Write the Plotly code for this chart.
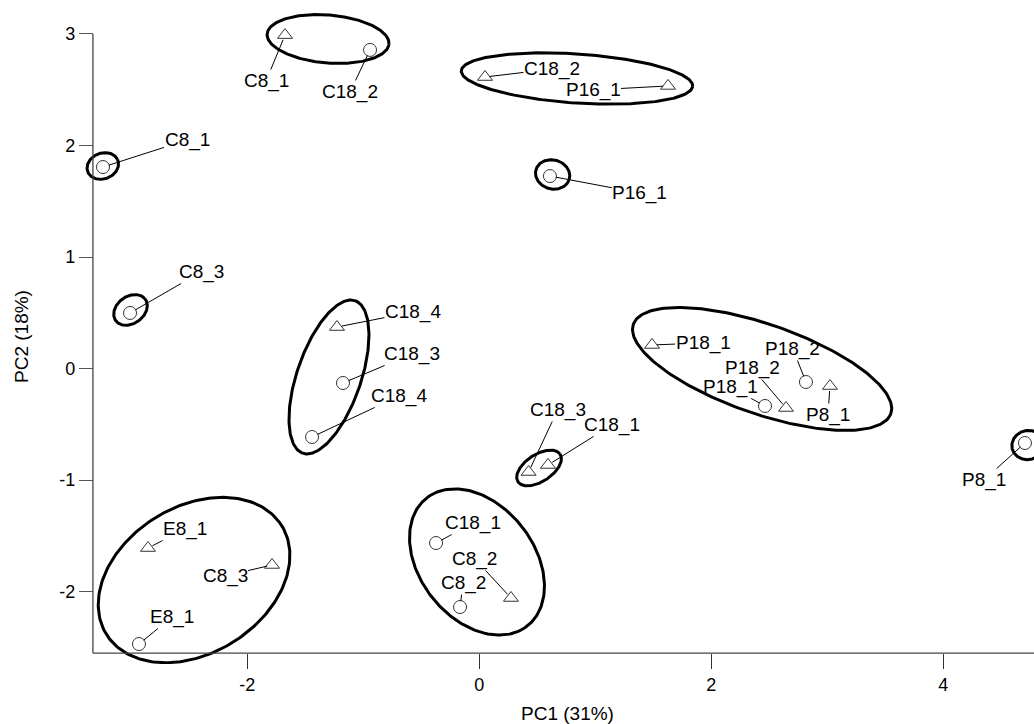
import numpy as np
import plotly.graph_objects as go

# ---------------- data ----------------
tri_labels = ["C8_1", "C18_2", "P16_1", "C18_4", "C18_3", "C18_1",
              "C8_2", "E8_1", "C8_3", "P18_1", "P8_1", "P18_2"]
tri_pc1 = [-1.675, 0.049, 1.627, -1.227, 0.425, 0.592,
           0.273, -2.856, -1.787, 1.489, 3.023, 2.644]
tri_pc2 = [2.99, 2.614, 2.534, 0.372, -0.928, -0.865,
           -2.058, -1.61, -1.762, 0.211, -0.157, -0.354]

circ_labels = ["C18_2", "P16_1", "C8_1", "C8_3", "C18_3", "C18_4",
               "C18_1", "C8_2", "E8_1", "P18_2", "P18_1", "P8_1"]
circ_pc1 = [-0.942, 0.609, -3.244, -3.011, -1.175, -1.442,
            -0.373, -0.166, -2.934, 2.816, 2.463, 4.704]
circ_pc2 = [2.857, 1.726, 1.807, 0.498, -0.130, -0.614,
            -1.565, -2.139, -2.471, -0.121, -0.336, -0.668]

# group ellipses: centre x, centre y, semi-major, semi-minor, angle (deg)
ell_cx = [-1.304, 0.842, 0.632, -3.246, -3.007, -1.296, 0.515, -0.02, -2.459, 2.438, 4.73]
ell_cy = [2.955, 2.601, 1.740, 1.816, 0.525, -0.076, -0.892, -1.735, -1.897, -0.004, -0.686]
ell_a = [0.527, 1.0, 0.15, 0.14, 0.16, 0.72, 0.22, 0.72, 0.90, 1.18, 0.14]
ell_b = [0.215, 0.22, 0.13, 0.115, 0.12, 0.277, 0.12, 0.50, 0.65, 0.40, 0.13]
ell_ang = [-5, -4, -20, 25, 40, 72, 35, -55, 35, -20, 20]

x_ticks = [-2, 0, 2, 4]
y_ticks = [-2, -1, 0, 1, 2, 3]

# ---------------- layout helpers (label offsets in px) ----------------
tri_off = [(-19, 46), (67, -8), (-75, 4), (76, -15), (29, -62), (64, -40),
           (-36, -39), (37, -19), (-47, 11), (51, -2), (-2, 29), (-34, -40)]
circ_off = [(-20, 42), (90, 17), (84, -27), (71, -41), (69, -29), (87, -41),
            (37, -20), (3, -24), (33, -27), (-13, -33), (-35, -19), (-41, 37)]

FONT = "Liberation Sans, Arial, sans-serif"
X_RANGE = [-3.451, 4.782]
Y_RANGE = [-2.650, 3.251]
X_AXIS_AT = -3.331   # where the y axis crosses
Y_AXIS_AT = -2.552   # where the x axis crosses

fig = go.Figure()

t = np.linspace(0, 2 * np.pi, 240)
for cx, cy, a, b, ang in zip(ell_cx, ell_cy, ell_a, ell_b, ell_ang):
    th = np.deg2rad(ang)
    ex = cx + a * np.cos(t) * np.cos(th) - b * np.sin(t) * np.sin(th)
    ey = cy + a * np.cos(t) * np.sin(th) + b * np.sin(t) * np.cos(th)
    fig.add_trace(go.Scatter(x=ex, y=ey, mode="lines",
                             line=dict(color="black", width=3),
                             hoverinfo="skip", showlegend=False))

fig.add_trace(go.Scatter(x=tri_pc1, y=tri_pc2, mode="markers", cliponaxis=False,
                         marker=dict(symbol="triangle-up-open", size=13,
                                     color="#333", line=dict(width=1, color="#333")),
                         showlegend=False, hoverinfo="skip"))
fig.add_trace(go.Scatter(x=circ_pc1, y=circ_pc2, mode="markers", cliponaxis=False,
                         marker=dict(symbol="circle-open", size=13,
                                     color="#333", line=dict(width=1, color="#333")),
                         showlegend=False, hoverinfo="skip"))

annotations = []
for labels, xs, ys, offs, so in ((tri_labels, tri_pc1, tri_pc2, tri_off, 5),
                                 (circ_labels, circ_pc1, circ_pc2, circ_off, 6)):
    for lab, x, y, (ax, ay) in zip(labels, xs, ys, offs):
        annotations.append(dict(x=x, y=y, xref="x", yref="y", text=lab,
                                showarrow=True, arrowhead=0, arrowwidth=1,
                                arrowcolor="black", ax=ax, ay=ay, standoff=so,
                                borderpad=0,
                                font=dict(family=FONT, size=19, color="black")))

# axis titles
annotations.append(dict(text="PC1 (31%)", xref="paper", yref="paper",
                        x=0.511, y=-0.0745, showarrow=False,
                        xanchor="center", yanchor="middle",
                        font=dict(family=FONT, size=19, color="black")))
annotations.append(dict(text="PC2 (18%)", xref="paper", yref="paper",
                        x=-0.0597, y=0.4985, showarrow=False, textangle=-90,
                        xanchor="center", yanchor="middle",
                        font=dict(family=FONT, size=19, color="black")))

xpos = (Y_AXIS_AT - Y_RANGE[0]) / (Y_RANGE[1] - Y_RANGE[0])
ypos = (X_AXIS_AT - X_RANGE[0]) / (X_RANGE[1] - X_RANGE[0])

shapes = [
    dict(type="line", xref="x", yref="y", x0=X_AXIS_AT, x1=X_RANGE[1],
         y0=Y_AXIS_AT, y1=Y_AXIS_AT, line=dict(color="#444", width=1.3)),
    dict(type="line", xref="x", yref="y", x0=X_AXIS_AT, x1=X_AXIS_AT,
         y0=Y_AXIS_AT, y1=y_ticks[-1], line=dict(color="#444", width=1.3)),
]

fig.update_layout(
    width=1034, height=724,
    margin=dict(l=79, r=0, t=6, b=60),
    paper_bgcolor="white", plot_bgcolor="white",
    font=dict(family=FONT, size=18, color="black"),
    hovermode=False,
    annotations=annotations,
    shapes=shapes,
    xaxis=dict(range=X_RANGE, anchor="free", position=xpos,
               showgrid=False, zeroline=False, showline=False,
               tickmode="array", tickvals=x_ticks,
               ticktext=[str(v) for v in x_ticks],
               ticks="outside", ticklen=15, tickwidth=1.3, tickcolor="#333",
               tickfont=dict(family=FONT, size=18, color="black")),
    yaxis=dict(range=Y_RANGE, anchor="free", position=ypos,
               showgrid=False, zeroline=False, showline=False,
               tickmode="array", tickvals=y_ticks,
               ticktext=[str(v) for v in y_ticks],
               ticks="outside", ticklen=14, tickwidth=1.3, tickcolor="#555",
               tickfont=dict(family=FONT, size=18, color="black")),
)

fig.write_html("out.html")
